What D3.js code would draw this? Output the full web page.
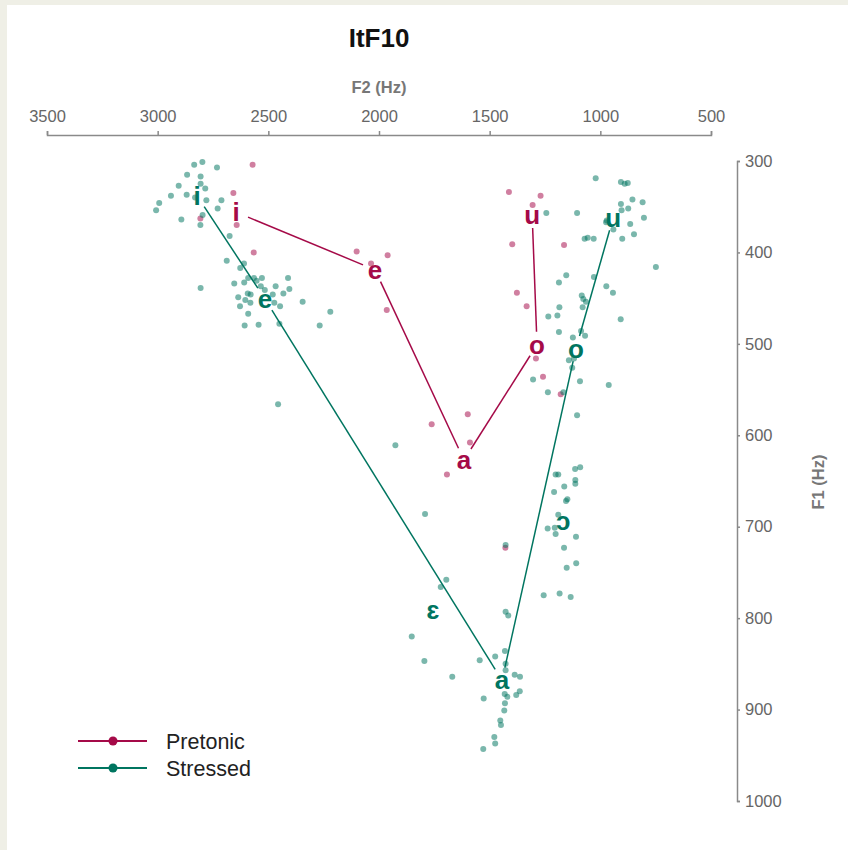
<!DOCTYPE html>
<html>
<head>
    <meta charset="utf-8">
    <title>ItF10</title>
    <script src="https://d3js.org/d3.v7.min.js"></script>
    <style>
        body { margin: 0; background: #efefe6; }
        svg text { font-family: "Liberation Sans", Arial, sans-serif; }
        .axis path, .axis line { stroke: #8a8a8a; stroke-width: 1.5; }
        .axis text { fill: #666; font-size: 16.5px; }
        .axis-title { fill: #777; font-size: 16.5px; font-weight: bold; }
    </style>
</head>
<body>
<script>
    // F2 / F1 (Hz) per token
    var pretonicTokens = [
        [2571,304],[2658,335],[2807,363],[2643,370],[2566,400],
        [2101,399],[1961,403],[2036,412],[1965,463],
        [1413,334],[1270,338],[1306,348],[1398,391],[1164,392],
        [1377,444],[1333,459],[1291,516],[1259,536],[1179,555],
        [1599,577],[1762,588],[1589,608],[1693,643],[1429,723]
    ];
    var stressedTokens = [
        // i
        [2798,301],[2835,304],[2732,307],[2867,315],[2806,317],[2806,325],[2905,327],
        [2785,330],[2869,337],[2940,338],[2831,340],[2780,343],[2712,343],[2993,346],
        [3007,354],[2729,352],[2797,359],[2893,364],[2807,370],[2675,382],[2806,439],
        // e
        [2688,409],[2610,412],[2627,417],[2654,434],[2609,433],[2591,428],[2565,428],
        [2529,428],[2553,431],[2411,428],[2467,437],[2405,440],[2432,445],[2534,437],
        [2516,441],[2636,449],[2593,445],[2580,446],[2604,452],[2628,459],[2581,455],
        [2480,446],[2473,455],[2447,459],[2345,454],[2591,467],[2607,480],[2544,479],
        [2450,478],[2220,465],[2268,480],[2456,566],
        // u
        [1021,319],[907,323],[890,325],[876,324],[855,342],[809,345],[907,347],
        [874,352],[904,354],[803,362],[971,365],[974,367],[865,369],[941,375],
        [848,380],[901,385],[1071,385],[1057,384],[1030,385],[1244,357],[1105,357],[749,416],
        // o
        [1154,425],[1187,433],[1029,427],[973,437],[943,444],[1084,447],[1077,451],
        [1065,454],[1185,460],[1080,460],[1235,470],[1194,469],[908,473],[1187,487],
        [1124,493],[1069,491],[1087,486],[1142,518],[1119,516],[1127,526],[1304,539],
        [1092,541],[962,545],[1237,553],[1167,553],[1105,578],
        // ɔ
        [1202,643],[1190,643],[1114,637],[1091,635],[1163,656],[1113,649],[1113,653],
        [1209,662],[1149,670],[1155,672],[1190,687],[1238,702],[1206,701],[1202,708],
        [1110,711],[1164,723],[1152,745],[1109,740],[1256,775],[1184,773],[1134,777],
        // ɛ
        [1926,611],[1792,686],[1696,758],[1721,766],[1852,820],[1795,847],[1669,864],
        // a
        [1428,720],[1428,793],[1416,797],[1545,846],[1475,842],[1431,836],[1428,850],
        [1428,857],[1387,862],[1363,864],[1364,880],[1380,884],[1432,883],[1420,886],
        [1527,888],[1431,893],[1434,901],[1452,912],[1449,917],[1479,930],[1475,937],
        [1529,943]
    ];

    // vowel means: [vowel, F2, F1]
    var pretonicMeans = [["i",2646,356],["e",2018,419],["a",1616,627],["o",1286,501],["u",1308,359]];
    var stressedMeans = [["i",2822,338],["e",2515,451],["ɛ",1756,791],["a",1444,868],
                         ["ɔ",1168,694],["o",1110,505],["u",942,362]];
    var pretonicPath = ["i","e","a","o","u"];
    var stressedPath = ["i","e","a","o","u"];

    var f2Ticks = [3500,3000,2500,2000,1500,1000,500];
    var f1Ticks = [300,400,500,600,700,800,900,1000];

    var groups = [
        {name: "Pretonic", color: "#a50a48", tokens: pretonicTokens, means: pretonicMeans, path: pretonicPath},
        {name: "Stressed", color: "#007560", tokens: stressedTokens, means: stressedMeans, path: stressedPath}
    ];

    var W = 848, H = 850;
    var svg = d3.select("body").append("svg")
        .attr("width", W)
        .attr("height", H)
        .style("display", "block");

    svg.append("rect").attr("width", W).attr("height", H).attr("fill", "#efefe6");
    svg.append("rect").attr("x", 7).attr("y", 5).attr("width", W - 7).attr("height", H - 5).attr("fill", "#fff");

    var x = d3.scaleLinear().domain([3500, 500]).range([47, 711]);
    var y = d3.scaleLinear().domain([300, 1000]).range([161, 801]);

    // axes
    svg.append("g")
        .attr("class", "axis")
        .attr("transform", "translate(0,135)")
        .call(d3.axisTop(x).tickValues(f2Ticks).tickFormat(d3.format("d"))
            .tickSize(4).tickSizeOuter(4).tickPadding(9));

    svg.append("g")
        .attr("class", "axis")
        .attr("transform", "translate(737,0)")
        .call(d3.axisRight(y).tickValues(f1Ticks).tickFormat(d3.format("d"))
            .tickSize(3).tickSizeOuter(3).tickPadding(5));

    svg.selectAll(".axis").attr("font-family", null).attr("font-size", null);

    svg.append("text")
        .attr("x", 379).attr("y", 47)
        .attr("text-anchor", "middle")
        .style("font-size", "26px").style("font-weight", "bold").style("fill", "#111")
        .text("ItF10");

    svg.append("text")
        .attr("class", "axis-title")
        .attr("x", 379).attr("y", 93)
        .attr("text-anchor", "middle")
        .text("F2 (Hz)");

    svg.append("text")
        .attr("class", "axis-title")
        .attr("transform", "translate(824,482) rotate(-90)")
        .attr("text-anchor", "middle")
        .text("F1 (Hz)");

    // tokens
    groups.forEach(function(g) {
        svg.append("g")
            .selectAll("circle")
            .data(g.tokens)
            .enter()
            .append("circle")
              .attr("cx", function(d) { return x(d[0]); })
              .attr("cy", function(d) { return y(d[1]); })
              .attr("r", 3)
              .style("fill", g.color)
              .style("opacity", 0.52);
    });

    // connecting lines, trimmed so they stop short of the labels
    var gap = 13;
    groups.forEach(function(g) {
        var byVowel = {};
        g.means.forEach(function(m) { byVowel[m[0]] = m; });
        var segs = d3.pairs(g.path).map(function(p) {
            var a = byVowel[p[0]], b = byVowel[p[1]];
            var x1 = x(a[1]), y1 = y(a[2]), x2 = x(b[1]), y2 = y(b[2]);
            var len = Math.sqrt((x2 - x1) * (x2 - x1) + (y2 - y1) * (y2 - y1));
            var ux = (x2 - x1) / len, uy = (y2 - y1) / len;
            return [x1 + ux * gap, y1 + uy * gap, x2 - ux * gap, y2 - uy * gap];
        });
        svg.append("g")
            .selectAll("line")
            .data(segs)
            .enter()
            .append("line")
              .attr("x1", function(d) { return d[0]; })
              .attr("y1", function(d) { return d[1]; })
              .attr("x2", function(d) { return d[2]; })
              .attr("y2", function(d) { return d[3]; })
              .attr("stroke", g.color)
              .attr("stroke-width", 1.5);
    });

    // vowel labels
    groups.forEach(function(g) {
        svg.append("g")
            .selectAll("text")
            .data(g.means)
            .enter()
            .append("text")
              .attr("x", function(d) { return x(d[1]); })
              .attr("y", function(d) { return y(d[2]); })
              .attr("dy", "0.35em")
              .attr("text-anchor", "middle")
              .style("font-size", "26px")
              .style("font-weight", "bold")
              .style("fill", g.color)
              .text(function(d) { return d[0]; });
    });

    // legend
    var legend = svg.append("g").attr("transform", "translate(78,741)");
    groups.forEach(function(g, i) {
        var row = legend.append("g").attr("transform", "translate(0," + (i * 27) + ")");
        row.append("line").attr("x1", 0).attr("x2", 69).attr("stroke", g.color).attr("stroke-width", 1.8);
        row.append("circle").attr("cx", 35).attr("r", 4.5).attr("fill", g.color);
        row.append("text")
            .attr("x", 88).attr("dy", "0.35em")
            .style("font-size", "21.5px").style("fill", "#222")
            .text(g.name);
    });
</script>
</body>
</html>
